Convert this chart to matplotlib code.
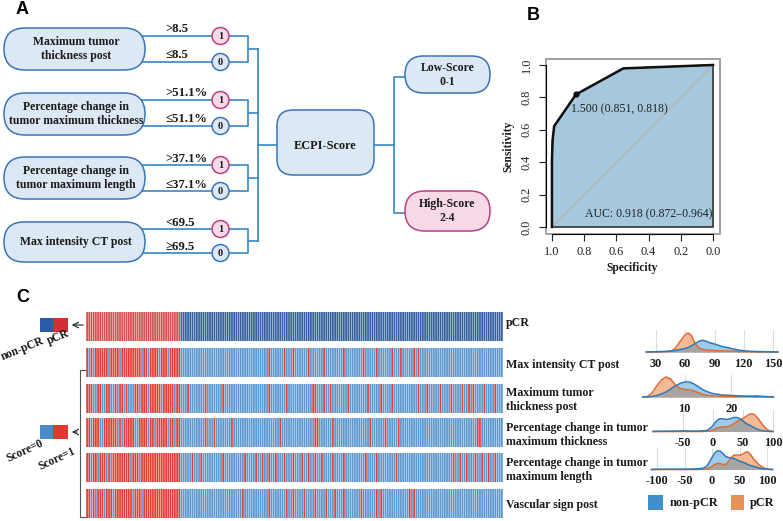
import numpy as np
import matplotlib
matplotlib.use('Agg')
import matplotlib.pyplot as plt
from matplotlib.patches import FancyBboxPatch, Circle, Rectangle

W, H = 783, 521
plt.rcParams['font.family'] = ['Liberation Serif', 'DejaVu Serif']

# ===== Panel A : scoring tree =====
feature_names = ['Maximum tumor\nthickness post', 'Percentage change in\ntumor maximum thickness',
                 'Percentage change in\ntumor maximum length', 'Max intensity CT post']
cut_high = ['>8.5', '>51.1%', '>37.1%', '<69.5']
cut_low = ['≤8.5', '≤51.1%', '≤37.1%', '≥69.5']
score_groups = ['Low-Score\n0-1', 'High-Score\n2-4']

# ===== Panel B : ROC =====
roc_spec = [1.0, 1.0, 0.996, 0.986, 0.851, 0.557, 0.0]
roc_sens = [0.0, 0.412, 0.536, 0.623, 0.818, 0.979, 1.0]
best_point = (1.500, 0.851, 0.818)
auc_text = 'AUC: 0.918 (0.872\u20130.964)'

# ===== Panel C : heatmap =====
n_patients = 190
n_pcr = 43
row_names = ['pCR', 'Max intensity CT post', 'Maximum tumor\nthickness post',
             'Percentage change in tumor\nmaximum thickness',
             'Percentage change in tumor\nmaximum length', 'Vascular sign post']
# pCR patients (first 43 columns) that score 0, per feature row
pcr_zero = [
    [1, 3, 10, 15, 25, 28, 33, 37],
    [3, 4, 7, 8, 11, 12, 14, 17, 19, 20, 21, 24, 28, 34, 40],
    [2, 6, 7, 14, 16, 22, 23, 28, 31, 37, 40],
    [2, 5, 9, 11, 20, 24],
    [2, 4, 8, 12, 21, 25],
]
# non-pCR patients that score 1, per feature row
npcr_one = [
    [83, 90, 94, 101, 108, 117, 126, 132, 139, 143, 149, 151],
    [46, 54, 62, 83, 91, 103, 104, 108, 111, 119, 128, 134, 139, 151, 155, 161, 166, 171, 174, 176, 181, 186],
    [54, 58, 66, 88, 104, 105, 112, 129, 136, 142, 178, 179],
    [48, 52, 62, 72, 77, 80, 83, 86, 90, 94, 98, 101, 104, 107, 112, 117, 127, 132, 141,
     167, 170, 173, 177, 180, 183, 186],
    [71, 83, 91, 94, 99, 104, 109, 113, 117, 125, 132, 134, 147, 149],
]

# density ridges (heights in relative units)
ct_x = [20, 30, 40, 46, 50, 55, 60, 63, 66, 70, 74, 78, 82, 86, 90, 97, 105, 116, 125, 135, 145, 155]
ct_npcr = [0, 0.3, 0.6, 1, 1.5, 2.5, 3.5, 4.5, 6, 8.3, 10.7, 11.8, 10.5, 9, 8, 5.7, 4, 1.7, 0.8, 0.4, 0.2, 0]
ct_pcr = [0, 0, 0.3, 1, 4, 11, 17.5, 19, 17, 9, 4, 2.5, 2, 1.7, 1.4, 1.2, 1, 0.5, 0.2, 0, 0, 0]

thk_x = [1, 2, 3, 4, 5, 6, 7, 8, 9, 10, 11, 12, 13, 14, 15, 16, 18, 20, 22, 24, 25.5, 27, 29]
thk_npcr = [0, 0, 0.5, 1.5, 3, 5, 8, 11, 13.5, 15, 15, 13, 10, 7, 5, 3.5, 2, 1.5, 1, 0.6, 0.4, 0.3, 0]
thk_pcr = [0, 0.5, 4, 11, 17, 20, 18, 12, 8.5, 7.5, 7, 6, 4, 2.5, 1.5, 1, 0.6, 0.5, 0.5, 0.8, 1.2, 0.5, 0]

pth_x = [-100, -90, -70, -55, -50, -45, -30, -20, -10, -5, 0, 5, 10, 15, 20, 25, 30, 35, 40, 45,
         50, 55, 60, 65, 70, 75, 80, 85, 90, 95, 100]
pth_npcr = [0, 0.2, 0.3, 0.5, 0.7, 0.5, 0.3, 0.5, 1, 3, 6, 10, 12.5, 12.8, 12.2, 12.2, 13, 14, 14, 12.7,
            10.5, 8, 6.5, 5, 3.5, 2, 1, 0.5, 0.2, 0, 0]
pth_pcr = [0, 0, 0, 0, 0, 0, 0, 0, 0.2, 0.5, 1.5, 3, 4, 4.5, 4.5, 5, 6, 8, 10, 11.5,
           13, 15, 17, 17.7, 16.5, 13, 9, 5, 2, 0.5, 0]

pln_x = [-110, -100, -80, -60, -40, -25, -15, -10, -5, 0, 5, 10, 15, 20, 25, 30, 35, 40, 45, 50,
         55, 60, 65, 70, 75, 80, 85, 90, 95, 100, 105, 110]
pln_npcr = [0, 0.2, 0.3, 0.3, 0.4, 0.7, 1.5, 3, 7, 12, 16.5, 18.7, 18.3, 16, 13, 12, 11.5, 11, 9.5, 8.5,
            7.5, 6.5, 5, 4, 3.3, 2.5, 1.5, 1, 0.5, 0.3, 0.1, 0]
pln_pcr = [0, 0, 0, 0, 0, 0, 0.2, 0.5, 1.5, 3, 5, 6, 6, 5, 5, 8, 12, 14.3, 14.5, 14.3,
           15, 17, 17.7, 15, 11, 8, 5, 3, 1.5, 0.7, 0.2, 0]


def px_axes(x0, y0, x1, y1):
    return fig.add_axes([x0 / W, 1 - y1 / H, (x1 - x0) / W, (y1 - y0) / H])


def pill(ax, x, y, w, h, fc, ec, r=None):
    if r is None:
        r = h / 2
    ax.add_patch(FancyBboxPatch((x, y), w, h, boxstyle=f'round,pad=0,rounding_size={r}',
                                fc=fc, ec=ec, lw=1.1, zorder=3))


fig = plt.figure(figsize=(W / 100, H / 100), dpi=100)

# overlay in pixel coordinates
ax0 = fig.add_axes([0, 0, 1, 1])
ax0.set_xlim(0, W); ax0.set_ylim(H, 0); ax0.axis('off')

txt = dict(fontweight='bold', color='#1a1a1a', ha='center', va='center')
line_c = '#3a86c2'
box_fill, box_edge = '#dde8f5', '#3a74b4'
pink_fill, pink_edge = '#f7d9e8', '#b8407e'

for lab, x, y in [('A', 22, 10), ('B', 533, 15), ('C', 23, 297)]:
    ax0.text(x, y, lab, fontsize=13, fontweight='bold', family='Liberation Sans', ha='center', va='center')

# Panel A
box_rows = [(28, 70), (93, 135), (157, 199), (222, 262)]
circle_y = [(36, 62), (100, 126), (165, 191), (229, 253)]
for i, name in enumerate(feature_names):
    y0, y1 = box_rows[i]
    pill(ax0, 4, y0, 141, y1 - y0, box_fill, box_edge)
    ax0.text(76, (y0 + y1) / 2, name, fontsize=8.5, linespacing=1.25, zorder=4, **txt)
    yh, yl = circle_y[i]
    for yy, lab, cut, fc, ec in [(yh, '1', cut_high[i], pink_fill, pink_edge),
                                 (yl, '0', cut_low[i], box_fill, box_edge)]:
        ax0.plot([120, 212], [yy, yy], color=line_c, lw=1.2, zorder=1)
        ax0.add_patch(Circle((220.5, yy), 8.5, fc=fc, ec=ec, lw=1.1, zorder=3))
        ax0.text(220.5, yy + 0.5, lab, fontsize=7.5, zorder=4, **txt)
        ax0.text(165, yy - 6.5, cut, fontsize=9.2, fontweight='bold', color='#1a1a1a', ha='left', va='center')
    ax0.plot([229, 248, 248, 229], [yh, yh, yl, yl], color=line_c, lw=1.2, zorder=1)
    ax0.plot([248, 258], [(yh + yl) / 2] * 2, color=line_c, lw=1.2, zorder=1)
ax0.plot([258, 258], [49, 241], color=line_c, lw=1.2)
ax0.plot([258, 277], [145, 145], color=line_c, lw=1.2)

pill(ax0, 277, 110, 97, 65, box_fill, box_edge, r=16)
ax0.text(325.5, 146, 'ECPI-Score', fontsize=8.8, zorder=4, **txt)
ax0.plot([374, 394], [145, 145], color=line_c, lw=1.2)
ax0.plot([405, 394, 394, 405], [77, 77, 213, 213], color=line_c, lw=1.2)
pill(ax0, 405, 56, 85, 37, box_fill, box_edge)
ax0.text(447.5, 75, score_groups[0], fontsize=8.5, linespacing=1.2, zorder=4, **txt)
pill(ax0, 405, 191, 85, 40, pink_fill, pink_edge)
ax0.text(447.5, 211, score_groups[1], fontsize=8.5, linespacing=1.2, zorder=4, **txt)

# Panel B
ax_roc = px_axes(545.5, 58.5, 719.5, 233.5)
ax_roc.set_xlim(1.04, -0.04); ax_roc.set_ylim(-0.04, 1.04)
ax_roc.fill(roc_spec + [0.0], roc_sens + [0.0], fc='#a6c8dd', ec='#111111', lw=1.0)
ax_roc.plot([1, 0], [0, 1], color='#b3b3b3', lw=1.0)
ax_roc.plot(roc_spec, roc_sens, color='#111111', lw=1.8)
ax_roc.plot(best_point[1], best_point[2], 'o', color='#111111', ms=3.5)
ax_roc.text(best_point[1] + 0.033, best_point[2] - 0.09,
            f'{best_point[0]:.3f} ({best_point[1]:.3f}, {best_point[2]:.3f})',
            fontsize=8.5, color='#222222', ha='left', va='center')
ax_roc.text(0.006, 0.08, auc_text, fontsize=8.5, color='#222222', ha='right', va='center')
ticks = [1.0, 0.8, 0.6, 0.4, 0.2, 0.0]
ax_roc.set_xticks(ticks); ax_roc.set_xticklabels([f'{t:.1f}' for t in ticks])
ax_roc.set_yticks(ticks); ax_roc.set_yticklabels([f'{t:.1f}' for t in ticks], rotation=90, va='center')
ax_roc.tick_params(direction='out', length=5, width=0.8, pad=4, labelsize=8.8, colors='#222222')
for s in ['top', 'right']:
    ax_roc.spines[s].set_color('#a0a0a0')
    ax_roc.spines[s].set_linewidth(1.3)
for s in ['bottom', 'left']:
    ax_roc.spines[s].set_bounds(0, 1)
    ax_roc.spines[s].set_linewidth(0.8)
ax_roc.add_patch(Rectangle((0, 0), 1, 1, transform=ax_roc.transAxes, fill=False,
                           ec='#a0a0a0', lw=1.3, clip_on=False, zorder=0))
ax0.text(508, 146, 'Sensitivity', fontsize=8.3, rotation=90, **txt)
ax0.text(632, 268, 'Specificity', fontsize=8.3, **txt)

# Panel C heatmap
matrix = np.zeros((6, n_patients), dtype=int)
matrix[0, :n_pcr] = 1
for r in range(5):
    matrix[r + 1, :n_pcr] = 1
    matrix[r + 1, pcr_zero[r]] = 0
    matrix[r + 1, npcr_one[r]] = 1

row_tops = [312, 348, 384, 418, 453, 489]
ax_h = px_axes(86, 312, 503, 518)
ax_h.set_xlim(-0.5, n_patients - 0.5); ax_h.set_ylim(518, 312); ax_h.axis('off')
idx = np.arange(n_patients)
for r, top in enumerate(row_tops):
    red, blue = ('#d44f50', '#33609f') if r == 0 else ('#e43d35', '#5a97ce')
    cols = np.where(matrix[r] == 1, red, blue)
    ax_h.bar(idx, 29, bottom=top, width=0.8, color=cols, linewidth=0, snap=False)

label_y = [323, 365, 400, 435, 470, 505]
for name, y in zip(row_names, label_y):
    lines = name.split('\n')
    for k, line in enumerate(lines):
        yy = y + (k - (len(lines) - 1) / 2) * 14
        ax0.text(506, yy, line, fontsize=8.6, fontweight='bold', color='#1a1a1a',
                 ha='left', va='center')

# legends left of heatmap
ax0.add_patch(Rectangle((40, 318), 13, 14, fc='#2a5ba8', ec='none'))
ax0.add_patch(Rectangle((53, 318), 15, 14, fc='#d42f35', ec='none'))
ax0.annotate('', xy=(69, 325), xytext=(86, 325),
             arrowprops=dict(arrowstyle='->', color='#222222', lw=0.8))
ax0.text(22, 349, 'non-pCR', fontsize=8.3, rotation=22, **txt)
ax0.text(58, 337, 'pCR', fontsize=8.3, rotation=22, **txt)

ax0.add_patch(Rectangle((40, 425), 13, 14, fc='#4b8bc8', ec='none'))
ax0.add_patch(Rectangle((53, 425), 15, 14, fc='#e03a30', ec='none'))
ax0.plot([86, 80, 80, 86], [370, 370, 517, 517], color='#555555', lw=0.8)
ax0.annotate('', xy=(69, 432), xytext=(80, 432),
             arrowprops=dict(arrowstyle='->', color='#222222', lw=0.8))
ax0.text(25, 451, 'Score=0', fontsize=8.3, rotation=25, **txt)
ax0.text(57, 459, 'Score=1', fontsize=8.3, rotation=25, **txt)


# density ridges
def ridge(top, base, v0, p0, scale, x, blue, orange, ticks):
    ax = px_axes(640, top, 783, base)
    ax.set_xlim(v0 + (640 - p0) / scale, v0 + (783 - p0) / scale)
    ax.set_ylim(0, base - top)
    x = np.array(x); blue = np.array(blue); orange = np.array(orange)
    ax.fill_between(x, blue, color='#9fcbea', lw=0)
    ax.fill_between(x, orange, color='#f4b996', lw=0)
    ax.fill_between(x, np.minimum(blue, orange), color='#a7a5a4', lw=0)
    ax.plot(x, orange, color='#db6c33', lw=1.1, clip_on=False)
    ax.plot(x, blue, color='#2d78b6', lw=1.1, clip_on=False)
    ax.set_xticks(ticks)
    ax.set_xticklabels([str(t) for t in ticks], fontweight='bold')
    ax.set_yticks([])
    ax.grid(axis='x', color='#dcdcdc', lw=0.8)
    ax.set_axisbelow(True)
    ax.tick_params(length=0, pad=4, labelsize=8.8, colors='#1a1a1a')
    for s in ax.spines.values():
        s.set_visible(False)
    ax.patch.set_alpha(0)


ridge(330, 352, 30, 656, 0.975, ct_x, ct_npcr, ct_pcr, [30, 60, 90, 120, 150])
ridge(375, 397, 0, 638, 4.67, thk_x, thk_npcr, thk_pcr, [10, 20])
ridge(410, 431.5, 0, 713, 0.6, pth_x, pth_npcr, pth_pcr, [-50, 0, 50, 100])
ridge(448, 469.5, 0, 712, 0.55, pln_x, pln_npcr, pln_pcr, [-100, -50, 0, 50, 100])

ax0.add_patch(Rectangle((648, 495), 15, 15, fc='#3f8fd0', ec='none'))
ax0.text(670, 503, 'non-pCR', fontsize=8.8, fontweight='bold', color='#1a1a1a', ha='left', va='center')
ax0.add_patch(Rectangle((731, 495), 13, 15, fc='#e8925a', ec='none'))
ax0.text(750, 503, 'pCR', fontsize=8.8, fontweight='bold', color='#1a1a1a', ha='left', va='center')

fig.savefig('out.png', dpi=100)
